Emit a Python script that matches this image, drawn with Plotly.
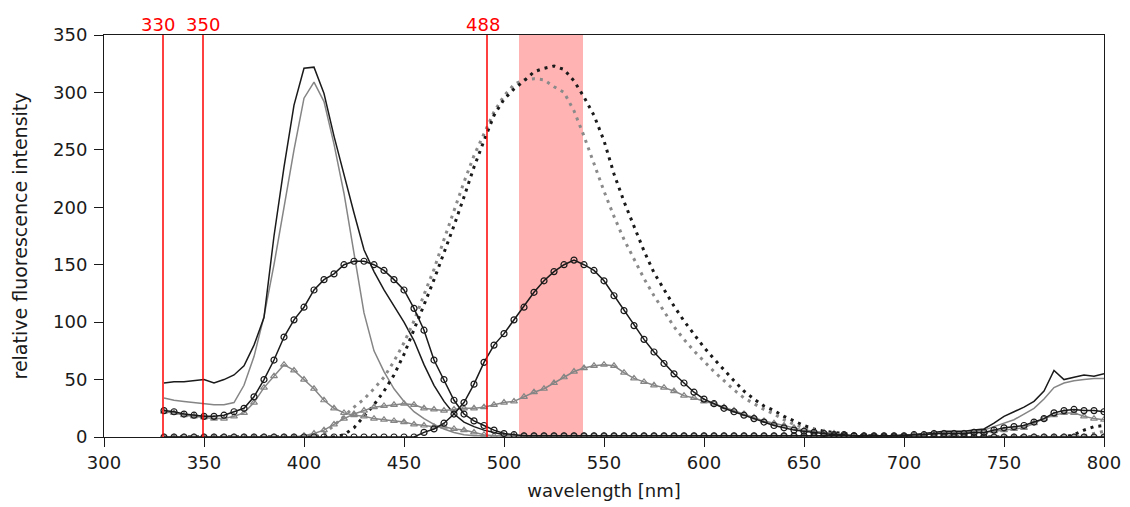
import plotly.graph_objects as go

# wavelength grid (nm)
wavelength = list(range(330, 805, 5))

# excitation-like curves (left group)
black_solid = [47, 48, 48, 49, 50, 47, 50, 54, 62, 80,
               104, 175, 235, 289, 321, 322, 299, 262, 228, 195,
               163, 144, 128, 114, 100, 84, 63, 45, 31, 20,
               13, 9, 6, 4, 2, 1, 1, 1, 1, 1,
               1, 1, 1, 1, 1, 1, 1, 1, 1, 1,
               1, 1, 1, 1, 1, 1, 1, 1, 1, 1,
               1, 1, 1, 1, 1, 1, 1, 1, 1, 1,
               1, 1, 1, 1, 2, 2, 3, 4, 5, 5,
               5, 6, 7, 12, 18, 22, 26, 31, 40, 58,
               50, 52, 54, 53, 55]
gray_solid = [34, 32, 31, 30, 29, 28, 28, 30, 45, 70,
              105, 150, 200, 250, 295, 309, 292, 255, 212, 160,
              108, 75, 57, 42, 31, 22, 16, 11, 7, 4,
              2, 1, 1, 1, 1, 1, 1, 1, 1, 1,
              1, 1, 1, 1, 1, 1, 1, 1, 1, 1,
              1, 1, 1, 1, 1, 1, 1, 1, 1, 1,
              1, 1, 1, 1, 1, 1, 1, 1, 1, 1,
              1, 1, 1, 1, 1, 2, 3, 3, 4, 4,
              4, 5, 6, 9, 12, 15, 20, 25, 33, 43,
              47, 49, 50, 51, 51]
black_circles = [23, 22, 20, 19, 18, 18, 19, 22, 25, 35,
                 50, 67, 87, 102, 113, 128, 137, 142, 150, 153,
                 153, 150, 145, 137, 128, 112, 93, 67, 50, 32,
                 20, 14, 10, 6, 3, 2, 1, 1, 1, 1,
                 1, 1, 1, 1, 1, 1, 1, 1, 1, 1,
                 1, 1, 1, 1, 1, 1, 1, 1, 1, 1,
                 1, 1, 1, 1, 1, 1, 1, 1, 1, 1,
                 1, 1, 1, 1, 1, 2, 2, 3, 3, 3,
                 3, 4, 4, 6, 8, 9, 10, 13, 16, 21,
                 23, 24, 23, 23, 22]
gray_triangles = [22, 21, 19, 18, 17, 16, 16, 18, 21, 30,
                  43, 53, 63, 58, 50, 42, 32, 25, 21, 19,
                  18, 16, 15, 14, 13, 11, 10, 9, 9, 7,
                  6, 4, 2, 1, 1, 1, 1, 1, 1, 1,
                  1, 1, 1, 1, 1, 1, 1, 1, 1, 1,
                  1, 1, 1, 1, 1, 1, 1, 1, 1, 1,
                  1, 1, 1, 1, 1, 1, 1, 1, 1, 1,
                  1, 1, 1, 1, 1, 2, 2, 3, 3, 3,
                  3, 4, 4, 5, 6, 7, 8, 12, 16, 19,
                  21, 21, 18, 16, 15]

# emission-like curves (right group)
black_dotted = [0, 0, 0, 0, 0, 0, 0, 0, 0, 0,
                0, 0, 0, 0, 0, 0, 0, 0, 2, 8,
                18, 28, 40, 54, 72, 93, 115, 137, 160, 184,
                209, 235, 258, 280, 294, 303, 310, 318, 321, 323,
                320, 310, 296, 280, 258, 229, 205, 183, 162, 143,
                128, 114, 101, 89, 78, 68, 58, 49, 40, 33,
                27, 23, 18, 14, 10, 7, 5, 4, 3, 2,
                1, 1, 0, 0, 0, 0, 0, 0, 0, 0,
                0, 0, 0, 0, 0, 0, 0, 0, 0, 0,
                0, 2, 6, 9, 10]
gray_dotted = [0, 0, 0, 0, 0, 0, 0, 0, 0, 0,
               0, 0, 0, 0, 0, 0, 3, 10, 18, 26,
               33, 42, 52, 66, 82, 101, 124, 146, 172, 198,
               222, 245, 264, 283, 297, 307, 311, 312, 311, 305,
               300, 284, 262, 238, 214, 192, 172, 155, 138, 123,
               109, 96, 85, 75, 66, 57, 49, 41, 34, 29,
               24, 20, 15, 11, 8, 6, 4, 3, 2, 1,
               1, 0, 0, 0, 0, 0, 0, 0, 0, 0,
               0, 0, 0, 0, 0, 0, 0, 0, 0, 0,
               0, 0, 1, 3, 5]
black_circles_2 = [0, 0, 0, 0, 0, 0, 0, 0, 0, 0,
                   0, 0, 0, 0, 0, 0, 0, 0, 0, 0,
                   0, 0, 0, 0, 0, 0, 4, 7, 12, 20,
                   30, 46, 65, 80, 90, 102, 113, 126, 136, 144,
                   150, 154, 150, 145, 136, 123, 110, 97, 85, 74,
                   64, 55, 47, 39, 33, 29, 25, 22, 19, 16,
                   13, 10, 8, 6, 5, 4, 3, 2, 2, 1,
                   0, 0, 0, 0, 0, 0, 0, 0, 0, 0,
                   0, 0, 0, 0, 0, 0, 0, 0, 0, 0,
                   0, 0, 0, 0, 0]
gray_triangles_2 = [0, 0, 0, 0, 0, 0, 0, 0, 0, 0,
                    0, 0, 0, 0, 1, 3, 6, 11, 16, 20,
                    23, 26, 27, 28, 29, 28, 25, 24, 23, 24,
                    25, 25, 26, 28, 30, 31, 35, 39, 42, 47,
                    52, 57, 60, 62, 63, 62, 56, 51, 48, 45,
                    43, 40, 36, 34, 31, 29, 26, 23, 20, 17,
                    14, 12, 10, 8, 6, 5, 4, 3, 2, 1,
                    1, 0, 0, 0, 0, 0, 0, 0, 0, 0,
                    0, 0, 0, 0, 0, 0, 0, 0, 0, 0,
                    0, 0, 0, 0, 0]

# excitation lines and detection band
line_positions = [329.5, 349.5, 491.5]
line_labels = ["330", "350", "488"]
label_positions = [327, 349.5, 489.5]
band = [507.5, 539.5]

FONT = "DejaVu Sans"
BLACK = "#1a1a1a"
GRAY = "#858585"

fig = go.Figure()

fig.add_trace(go.Scatter(x=wavelength, y=gray_solid, mode="lines",
                         line=dict(color=GRAY, width=1.5)))
fig.add_trace(go.Scatter(x=wavelength, y=black_solid, mode="lines",
                         line=dict(color=BLACK, width=1.5)))
fig.add_trace(go.Scatter(x=wavelength, y=gray_dotted, mode="lines",
                         line=dict(color="#8a8a8a", width=3, dash="3px,5px")))
fig.add_trace(go.Scatter(x=wavelength, y=black_dotted, mode="lines",
                         line=dict(color=BLACK, width=3, dash="3px,5px")))
for ys in (gray_triangles, gray_triangles_2):
    fig.add_trace(go.Scatter(x=wavelength, y=ys, mode="lines+markers",
                             line=dict(color=GRAY, width=1.5),
                             marker=dict(symbol="triangle-up-open", size=6,
                                         color=GRAY, line=dict(width=1.2))))
for ys in (black_circles, black_circles_2):
    fig.add_trace(go.Scatter(x=wavelength, y=ys, mode="lines+markers",
                             line=dict(color=BLACK, width=1.5),
                             marker=dict(symbol="circle-open", size=6,
                                         color=BLACK, line=dict(width=1.2))))

fig.add_shape(type="rect", xref="x", yref="paper", x0=band[0], x1=band[1],
              y0=0, y1=1, fillcolor="#ffb3b3", line=dict(width=0), layer="below")
for xp in line_positions:
    fig.add_shape(type="line", xref="x", yref="paper", x0=xp, x1=xp, y0=0, y1=1,
                  line=dict(color="#ff0000", width=1.5), layer="above")
for xp, txt in zip(label_positions, line_labels):
    fig.add_annotation(x=xp, y=1, xref="x", yref="paper", text=txt,
                       showarrow=False, yanchor="bottom", xanchor="center",
                       font=dict(family=FONT, size=18, color="#ff0000"), yshift=-2)

axis_common = dict(showline=True, linecolor=BLACK, linewidth=1, mirror=True,
                   ticks="outside", ticklen=9, tickcolor=BLACK, tickwidth=1,
                   showgrid=False, zeroline=False, automargin=False,
                   tickfont=dict(family=FONT, size=18, color=BLACK))

fig.update_layout(
    width=1130, height=507,
    margin=dict(l=104, r=26, t=35, b=70),
    paper_bgcolor="white", plot_bgcolor="white",
    showlegend=False,
    xaxis=dict(range=[300, 800], tick0=300, dtick=50,
               title=dict(text="wavelength [nm]", standoff=12,
                          font=dict(family=FONT, size=18, color=BLACK)),
               **axis_common),
    yaxis=dict(range=[0, 350], tick0=0, dtick=50, ticklabelstandoff=3,
               title=dict(text="relative fluorescence intensity", standoff=20,
                          font=dict(family=FONT, size=19, color=BLACK)),
               **axis_common),
)

fig.write_html("out.html")
